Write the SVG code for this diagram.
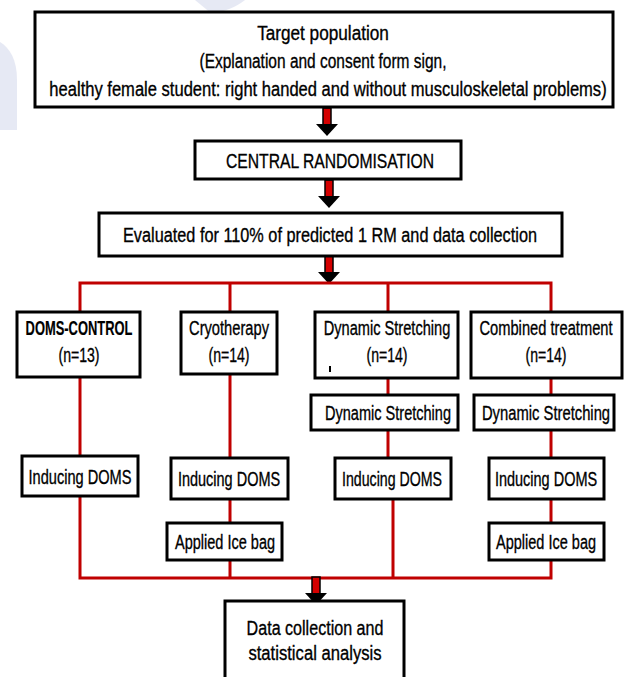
<svg xmlns="http://www.w3.org/2000/svg" width="624" height="677" viewBox="0 0 624 677">
<defs>
<style>
.box{fill:#fff;stroke:#000;stroke-width:3}
.t{font-family:"Liberation Sans",Arial,sans-serif;font-size:21px;fill:#000;stroke:#000;stroke-width:0.35;text-anchor:middle}
.b{font-weight:bold;stroke-width:0.2}
.red{stroke:#c00000;stroke-width:3;fill:none}
.shaft{fill:#d40000;stroke:#000;stroke-width:1.5}
.head{fill:#000}
</style>
<g id="arrow">
<rect class="shaft" x="-4" y="0" width="8" height="20"/>
<polygon class="head" points="-11,16 11,16 0,28"/>
</g>
</defs>
<rect width="624" height="677" fill="#fff"/>
<g id="watermark" opacity="0.45">
<path d="M0,42 C10,48 17,60 17,80 L17,130 L0,130 Z" fill="#c9cfe8"/>
<path d="M195,0 L245,0 C236,7 226,11 212,14 Z" fill="#c9cfe8"/>
</g>
<g id="connectors">
<use href="#arrow" x="327" y="108"/>
<use href="#arrow" x="329" y="180"/>
<use href="#arrow" x="329" y="256"/>
<path class="red" d="M80,312 V283 H551 V312 M230,283 V312 M388,283 V312"/>
<path class="red" d="M80,377 V456 M230,374 V458 M388,378 V395 M551,378 V395 M388,430 V458 M551,430 V458 M230,499 V523 M551,499 V523"/>
<path class="red" d="M80,496 V578 H551 V560 M230,560 V578 M393,499 V578"/>
<use href="#arrow" x="316" y="577"/>
</g>
<g id="target">
<rect class="box" x="35" y="12" width="578" height="95"/>
<text class="t" transform="translate(323,40) scale(0.72,1)" textLength="183" lengthAdjust="spacingAndGlyphs">Target population</text>
<text class="t" transform="translate(323,68) scale(0.72,1)" textLength="343" lengthAdjust="spacingAndGlyphs">(Explanation and consent form sign,</text>
<text class="t" transform="translate(328,96) scale(0.72,1)" textLength="774" lengthAdjust="spacingAndGlyphs">healthy female student: right handed and  without musculoskeletal problems)</text>
</g>
<g id="randomisation">
<rect class="box" x="195" y="141" width="266" height="38"/>
<text class="t" transform="translate(330,168) scale(0.72,1)" textLength="289" lengthAdjust="spacingAndGlyphs">CENTRAL RANDOMISATION</text>
</g>
<g id="evaluated">
<rect class="box" x="99" y="213" width="463" height="43"/>
<text class="t" transform="translate(330,242) scale(0.72,1)" textLength="575" lengthAdjust="spacingAndGlyphs">Evaluated for 110% of predicted 1 RM and data collection</text>
</g>
<g id="control">
<rect class="box" x="17" y="312" width="123" height="65"/>
<text class="t b" transform="translate(79,335) scale(0.68,1)" textLength="157" lengthAdjust="spacingAndGlyphs">DOMS-CONTROL</text>
<text class="t" transform="translate(79,362) scale(0.72,1)" textLength="57" lengthAdjust="spacingAndGlyphs">(n=13)</text>
</g>
<g id="cryo">
<rect class="box" x="181" y="312" width="96" height="62"/>
<text class="t" transform="translate(229,335) scale(0.72,1)" textLength="111" lengthAdjust="spacingAndGlyphs">Cryotherapy</text>
<text class="t" transform="translate(229,362) scale(0.72,1)" textLength="57" lengthAdjust="spacingAndGlyphs">(n=14)</text>
</g>
<g id="dynamic">
<rect class="box" x="315" y="312" width="143" height="66"/>
<text class="t" transform="translate(387,335) scale(0.72,1)" textLength="176" lengthAdjust="spacingAndGlyphs">Dynamic Stretching</text>
<text class="t" transform="translate(387,362) scale(0.72,1)" textLength="57" lengthAdjust="spacingAndGlyphs">(n=14)</text>
<rect x="329" y="366" width="2" height="6" fill="#000"/>
</g>
<g id="combined">
<rect class="box" x="471" y="312" width="151" height="66"/>
<text class="t" transform="translate(546,335) scale(0.72,1)" textLength="185" lengthAdjust="spacingAndGlyphs">Combined treatment</text>
<text class="t" transform="translate(546,362) scale(0.72,1)" textLength="57" lengthAdjust="spacingAndGlyphs">(n=14)</text>
</g>
<g id="ds3">
<rect class="box" x="311" y="395" width="147" height="35"/>
<text class="t" transform="translate(388,420) scale(0.72,1)" textLength="175" lengthAdjust="spacingAndGlyphs">Dynamic Stretching</text>
</g>
<g id="ds4">
<rect class="box" x="474" y="395" width="140" height="35"/>
<text class="t" transform="translate(546,420) scale(0.72,1)" textLength="178" lengthAdjust="spacingAndGlyphs">Dynamic Stretching</text>
</g>
<g id="ind1">
<rect class="box" x="22" y="456" width="116" height="40"/>
<text class="t" transform="translate(80,484) scale(0.72,1)" textLength="143" lengthAdjust="spacingAndGlyphs">Inducing DOMS</text>
</g>
<g id="ind2">
<rect class="box" x="171" y="458" width="117" height="41"/>
<text class="t" transform="translate(229,486) scale(0.72,1)" textLength="142" lengthAdjust="spacingAndGlyphs">Inducing DOMS</text>
</g>
<g id="ind3">
<rect class="box" x="335" y="458" width="116" height="41"/>
<text class="t" transform="translate(392,486) scale(0.72,1)" textLength="139" lengthAdjust="spacingAndGlyphs">Inducing DOMS</text>
</g>
<g id="ind4">
<rect class="box" x="489" y="458" width="115" height="41"/>
<text class="t" transform="translate(546,486) scale(0.72,1)" textLength="142" lengthAdjust="spacingAndGlyphs">Inducing DOMS</text>
</g>
<g id="ice2">
<rect class="box" x="167" y="523" width="115" height="37"/>
<text class="t" transform="translate(225,549) scale(0.72,1)" textLength="139" lengthAdjust="spacingAndGlyphs">Applied Ice bag</text>
</g>
<g id="ice4">
<rect class="box" x="489" y="523" width="115" height="37"/>
<text class="t" transform="translate(546,549) scale(0.72,1)" textLength="139" lengthAdjust="spacingAndGlyphs">Applied Ice bag</text>
</g>
<g id="data">
<rect class="box" x="225" y="601" width="179" height="80"/>
<text class="t" transform="translate(315,635) scale(0.72,1)" textLength="190" lengthAdjust="spacingAndGlyphs">Data collection and</text>
<text class="t" transform="translate(315,660) scale(0.72,1)" textLength="185" lengthAdjust="spacingAndGlyphs">statistical analysis</text>
</g>
</svg>
